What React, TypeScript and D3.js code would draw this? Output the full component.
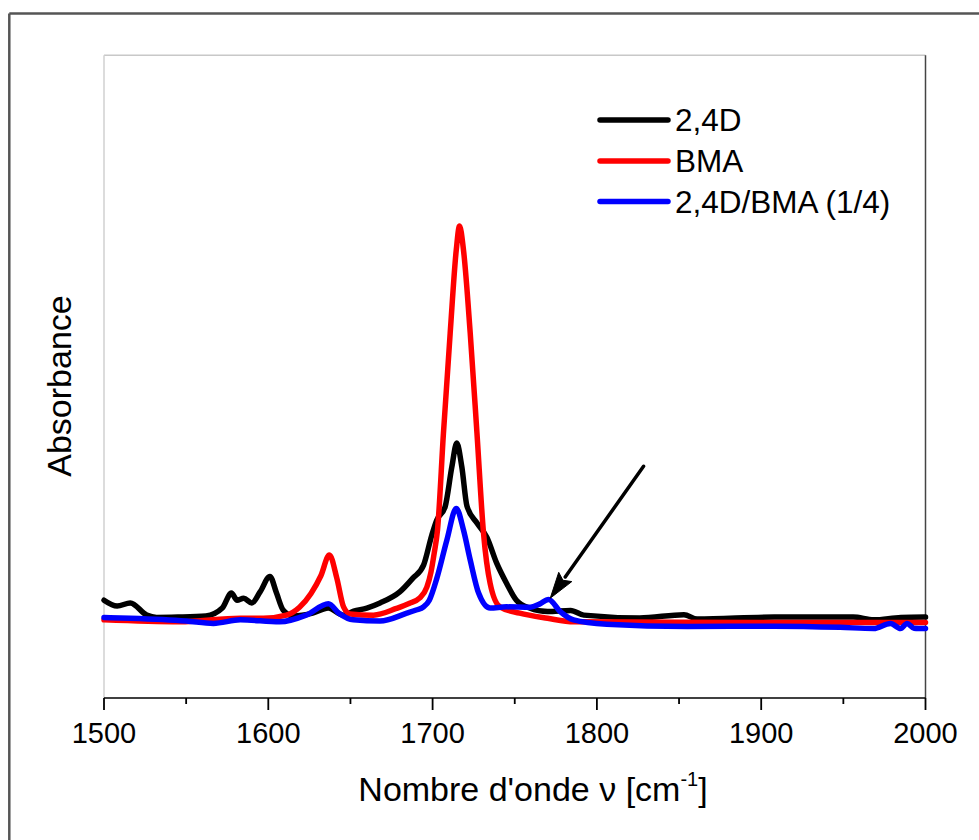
import React from "react";
import * as d3 from "d3";

// ---- data (absorbance in arbitrary units) ----
const blackWn = [1500, 1508, 1516, 1526, 1532, 1545, 1562, 1572, 1577.5, 1581, 1585, 1590, 1595, 1601, 1605, 1609, 1615, 1627, 1636.5, 1645.5, 1652, 1660, 1668, 1680, 1688, 1694.5, 1699.5, 1702.5, 1707.6, 1711.7, 1714.7, 1717.8, 1720.9, 1727, 1733, 1739, 1745, 1751, 1759, 1770, 1784, 1792, 1826, 1853, 1861, 1908, 1956, 1968.5, 1985, 2000];
const blackAbs = [0.053, 0.038, 0.046, 0.015, 0.009, 0.010, 0.013, 0.033, 0.071, 0.053, 0.058, 0.046, 0.074, 0.113, 0.071, 0.028, 0.013, 0.020, 0.033, 0.015, 0.025, 0.033, 0.046, 0.074, 0.109, 0.142, 0.218, 0.256, 0.290, 0.391, 0.452, 0.391, 0.292, 0.249, 0.213, 0.147, 0.096, 0.053, 0.033, 0.024, 0.027, 0.015, 0.008, 0.016, 0.005, 0.010, 0.010, 0.003, 0.009, 0.010];

const redWn = [1500, 1546, 1583, 1597, 1611, 1619, 1626, 1632, 1637.2, 1641.7, 1645.8, 1649.8, 1664, 1678, 1686, 1692, 1696.5, 1699, 1701, 1703, 1706.6, 1710.7, 1714.4, 1716.4, 1718.8, 1722.9, 1727, 1731, 1735, 1741, 1753, 1770, 1786, 1850, 1950, 2000];
const redAbs = [0.003, -0.002, 0.007, 0.007, 0.015, 0.035, 0.070, 0.115, 0.168, 0.109, 0.036, 0.018, 0.015, 0.032, 0.045, 0.058, 0.086, 0.124, 0.173, 0.232, 0.477, 0.731, 0.942, 1.003, 0.942, 0.731, 0.477, 0.223, 0.096, 0.036, 0.020, 0.007, -0.002, -0.003, -0.004, -0.004];

const blueWn = [1500, 1516, 1550, 1566.6, 1583, 1607, 1623, 1636.6, 1643, 1651.8, 1668, 1684.3, 1690, 1694.5, 1698, 1702.6, 1708.7, 1714.4, 1718.8, 1722.9, 1728, 1735, 1745, 1759.4, 1765, 1770.6, 1777.7, 1785.8, 1806, 1855, 1908, 1948, 1968.5, 1978.7, 1984.8, 1988.8, 1993, 2000];
const blueAbs = [0.009, 0.007, 0.000, -0.006, 0.003, -0.002, 0.015, 0.044, 0.020, 0.003, 0.000, 0.020, 0.028, 0.036, 0.053, 0.109, 0.206, 0.286, 0.231, 0.155, 0.071, 0.033, 0.036, 0.035, 0.043, 0.055, 0.024, 0.003, -0.008, -0.014, -0.013, -0.016, -0.019, -0.006, -0.019, -0.006, -0.018, -0.019];

const seriesNames = ["2,4D", "BMA", "2,4D/BMA (1/4)"];
const seriesColors = ["#000000", "#ff0000", "#0000ff"];

const xMajorTicks = [1500, 1600, 1700, 1800, 1900, 2000];
const xMinorTicks = [1550, 1650, 1750, 1850, 1950];

const arrowStart = [1828.4, 0.393];
const arrowTip = [1771.6, 0.058];

const xTitle = "Nombre d'onde \u03bd [cm";
const xTitleSup = "-1";
const yTitle = "Absorbance";

// ---- layout ----
const W = 979;
const H = 840;
const L = 104;
const R = 925.5;
const T = 55.3;
const B = 698;
const FONT = "Arial, 'Liberation Sans', Helvetica, sans-serif";

export default function App() {
  const x = d3.scaleLinear().domain([1500, 2000]).range([L, R]);
  const y = d3.scaleLinear().domain([-0.1954, 1.4365]).range([B, T]);

  const line = d3
    .line<[number, number]>()
    .x((d) => x(d[0]))
    .y((d) => y(d[1]))
    .curve(d3.curveMonotoneX);

  const series = [
    blackWn.map((w, i) => [w, blackAbs[i]] as [number, number]),
    redWn.map((w, i) => [w, redAbs[i]] as [number, number]),
    blueWn.map((w, i) => [w, blueAbs[i]] as [number, number]),
  ];

  // arrow geometry
  const ax0 = x(arrowStart[0]);
  const ay0 = y(arrowStart[1]);
  const ax1 = x(arrowTip[0]);
  const ay1 = y(arrowTip[1]);
  const ang = Math.atan2(ay1 - ay0, ax1 - ax0);
  const headLen = 26;
  const headHalf = 8;
  const bx = ax1 - headLen * Math.cos(ang);
  const by = ay1 - headLen * Math.sin(ang);
  const px = -Math.sin(ang);
  const py = Math.cos(ang);
  const head = `M${ax1},${ay1}L${bx + headHalf * px},${by + headHalf * py}L${bx + 4 * Math.cos(ang)},${by + 4 * Math.sin(ang)}L${bx - headHalf * px},${by - headHalf * py}Z`;

  const legendX0 = 600;
  const legendX1 = 668;
  const legendY = [120, 161, 201.5];

  return (
    <div style={{ position: "absolute", left: 0, top: 0, width: W, height: H, background: "#fff" }}>
      <svg width={W} height={H} style={{ display: "block" }} fontFamily={FONT}>
        <rect x={0} y={0} width={W} height={H} fill="#fff" />
        {/* outer border (top & left visible) */}
        <line x1={9.3} y1={13.5} x2={W} y2={13.5} stroke="#555" strokeWidth={2.5} />
        <line x1={9.3} y1={13.5} x2={9.3} y2={H} stroke="#555" strokeWidth={2.5} />

        {/* plot frame */}
        <line x1={L} y1={T} x2={R} y2={T} stroke="#c8c8c8" strokeWidth={1.5} />
        <line x1={L} y1={T} x2={L} y2={B} stroke="#d0d0d0" strokeWidth={1.5} />
        <line x1={R} y1={T} x2={R} y2={B} stroke="#444" strokeWidth={1.5} />

        {/* series */}
        {series.map((d, i) => (
          <path
            key={i}
            d={line(d) || ""}
            fill="none"
            stroke={seriesColors[i]}
            strokeWidth={5.5}
            strokeLinejoin="round"
            strokeLinecap="round"
          />
        ))}

        {/* bottom axis */}
        <line x1={L} y1={B} x2={R} y2={B} stroke="#000" strokeWidth={1.5} />
        {xMajorTicks.map((t) => (
          <g key={t}>
            <line x1={x(t)} y1={B} x2={x(t)} y2={B + 12} stroke="#000" strokeWidth={1.8} />
            <text x={x(t)} y={743} textAnchor="middle" fontSize={29} fill="#000">
              {t}
            </text>
          </g>
        ))}
        {xMinorTicks.map((t) => (
          <line key={t} x1={x(t)} y1={B} x2={x(t)} y2={B + 6} stroke="#000" strokeWidth={1.8} />
        ))}

        {/* axis titles */}
        <text x={533} y={801} textAnchor="middle" fontSize={34} fill="#000">
          {xTitle}
          <tspan fontSize={20} dy={-15}>{xTitleSup}</tspan>
          <tspan dy={15}>]</tspan>
        </text>
        <text
          transform={`translate(71,386) rotate(-90)`}
          textAnchor="middle"
          fontSize={34}
          fill="#000"
        >
          {yTitle}
        </text>

        {/* arrow annotation */}
        <line x1={ax0} y1={ay0} x2={bx} y2={by} stroke="#000" strokeWidth={3.5} strokeLinecap="round" />
        <path d={head} fill="#000" stroke="#000" strokeWidth={1} strokeLinejoin="round" />

        {/* legend */}
        {seriesNames.map((n, i) => (
          <g key={n}>
            <line
              x1={legendX0}
              y1={legendY[i]}
              x2={legendX1}
              y2={legendY[i]}
              stroke={seriesColors[i]}
              strokeWidth={5.5}
              strokeLinecap="round"
            />
            <text x={675} y={legendY[i]} dy="0.36em" fontSize={31.5} fill="#000">
              {n}
            </text>
          </g>
        ))}
      </svg>
    </div>
  );
}
